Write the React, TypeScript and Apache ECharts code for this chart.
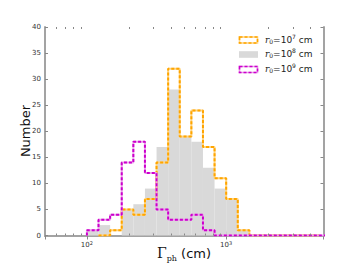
import React, { useEffect, useRef } from "react";
import * as echarts from "echarts";

// Histogram bins: log-uniform, 12 bins per decade, starting at 100 cm
const binStart = 100;
const binsPerDecade = 12;

// Counts per bin (bin 0 starts at 100 cm); null = not drawn
const countsR7: (number | null)[] = [null, 0, 1, 5, 4, 7, 14, 32, 19, 24, 17, 11, 7, 1, 0, 0, 0, 0, 0, 0];
const countsR8: number[] = [1, 2, 0, 5, 6, 9, 17, 28, 19, 18, 13, 9, 7, 1];
const countsR9: number[] = [1, 3, 4, 14, 18, 12, 5, 3, 3, 4, 1, 0, 0, 0, 0, 0, 0, 0, 0, 0, 0];

const xMin = 50;
const xMax = 5000;
const yMin = 0;
const yMax = 40;
const yInterval = 5;
const minorTickValues = [60, 70, 80, 90, 200, 300, 400, 500, 600, 700, 800, 900, 2000, 3000, 4000];

const edge = (k: number) => binStart * Math.pow(10, k / binsPerDecade);

function stepPoints(counts: (number | null)[]) {
  const pts: number[][] = [];
  let first = -1;
  let last = -1;
  counts.forEach((v, k) => {
    if (v === null) return;
    if (first < 0) {
      first = k;
      pts.push([edge(k), 0]);
    }
    pts.push([edge(k), v]);
    pts.push([edge(k + 1), v]);
    last = k;
  });
  if (last >= 0) pts.push([edge(last + 1), 0]);
  return pts;
}

const barData = countsR8.map((v, k) => [edge(k), edge(k + 1), v]);

export default function App() {
  const ref = useRef<HTMLDivElement>(null);
  useEffect(() => {
    document.body.style.margin = "0";
    if (!ref.current) return;
    const chart = echarts.init(ref.current, null, { renderer: "svg" });
    const axisColor = "#a3a3a3";
    const labelFont = "DejaVu Sans";
    const supLabel = (v: number) => {
      const e = Math.log10(v);
      const r = Math.round(e);
      if (Math.abs(e - r) < 1e-6 && (r === 2 || r === 3)) return "10{s|" + r + "}";
      return "";
    };
    const orange = "#FFA500";
    const orangeLight = "#FFD480";
    const magenta = "#CC00CC";
    const magentaLight = "#EBA0EB";
    const grey = "#d9d9d9";

    const legendRows = [
      { y: 40, exp: "7", kind: "orange" },
      { y: 54.5, exp: "8", kind: "grey" },
      { y: 69.5, exp: "9", kind: "magenta" },
    ];
    const legendGraphics: any[] = [];
    legendRows.forEach((r) => {
      if (r.kind === "grey") {
        legendGraphics.push({
          type: "rect",
          shape: { x: 239, y: r.y - 3.3, width: 19, height: 6.6 },
          style: { fill: grey },
        });
      } else {
        const c = r.kind === "orange" ? orange : magenta;
        const cl = r.kind === "orange" ? orangeLight : magentaLight;
        legendGraphics.push({
          type: "rect",
          shape: { x: 239.5, y: r.y - 3, width: 18, height: 6 },
          style: { fill: "none", stroke: cl, lineWidth: 1.6 },
        });
        legendGraphics.push({
          type: "rect",
          shape: { x: 239.5, y: r.y - 3, width: 18, height: 6 },
          style: { fill: "none", stroke: c, lineWidth: 1.6, lineDash: [3, 2] },
        });
      }
      legendGraphics.push({
        type: "text",
        left: 265,
        top: r.y - 7,
        style: {
          text: "{r|r}{sub|0}{t|=10}{sup|" + r.exp + "}{t| cm}",
          rich: {
            r: { fontFamily: "DejaVu Serif", fontStyle: "italic", fontSize: 9, fill: "#222", lineHeight: 14, verticalAlign: "bottom" },
            sub: { fontFamily: "DejaVu Serif", fontSize: 6, fill: "#222", lineHeight: 14, verticalAlign: "bottom", padding: [0, 0, 0, 0] },
            t: { fontFamily: labelFont, fontSize: 9, fill: "#222", lineHeight: 14, verticalAlign: "bottom" },
            sup: { fontFamily: labelFont, fontSize: 6, fill: "#222", lineHeight: 14, verticalAlign: "bottom", padding: [0, 0, 5, 0] },
          },
        },
      });
    });

    const lineSeries = (name: string, counts: (number | null)[], c: string, cl: string, z: number) => [
      {
        name: name + "-halo",
        type: "line",
        data: stepPoints(counts),
        showSymbol: false,
        symbol: "none",
        lineStyle: { color: cl, width: 2 },
        z,
        silent: true,
      },
      {
        name,
        type: "line",
        data: stepPoints(counts),
        showSymbol: false,
        symbol: "none",
        lineStyle: { color: c, width: 2, type: [3, 2] },
        z: z + 1,
        silent: true,
      },
    ];

    chart.setOption({
      animation: false,
      grid: { left: 45, right: 36.5, top: 27, bottom: 34.5, containLabel: false },
      xAxis: [
        {
          type: "log",
          logBase: 10,
          min: xMin,
          max: xMax,
          position: "bottom",
          axisLine: { show: true, lineStyle: { color: axisColor, width: 2 } },
          axisTick: { show: true, inside: true, length: 4, lineStyle: { color: "#888", width: 1 } },
          splitLine: { show: false },
          axisLabel: {
            showMinLabel: false,
            showMaxLabel: false,
            formatter: supLabel,
            fontFamily: labelFont,
            fontSize: 7,
            color: "#333",
            margin: 5,
            rich: { s: { fontSize: 5, fontFamily: labelFont, color: "#333", verticalAlign: "top", padding: [0, 0, 3, 0] } },
          },
        },
        {
          type: "log",
          logBase: 10,
          min: xMin,
          max: xMax,
          position: "top",
          axisLine: { show: true, lineStyle: { color: axisColor, width: 2 } },
          axisTick: { show: true, inside: true, length: 4, lineStyle: { color: "#888", width: 1 } },
          splitLine: { show: false },
          axisLabel: { show: false },
        },
      ],
      yAxis: [
        {
          type: "value",
          min: yMin,
          max: yMax,
          interval: yInterval,
          position: "left",
          axisLine: { show: true, lineStyle: { color: axisColor, width: 2 } },
          axisTick: { show: true, inside: true, length: 3, lineStyle: { color: "#888", width: 1 } },
          splitLine: { show: false },
          axisLabel: { fontFamily: labelFont, fontSize: 7, color: "#333", margin: 4 },
        },
        {
          type: "value",
          min: yMin,
          max: yMax,
          interval: yInterval,
          position: "right",
          axisLine: { show: true, lineStyle: { color: axisColor, width: 2 } },
          axisTick: { show: true, inside: true, length: 3, lineStyle: { color: "#888", width: 1 } },
          splitLine: { show: false },
          axisLabel: { show: false },
        },
      ],
      series: [
        {
          name: "r8",
          type: "custom",
          xAxisIndex: 0,
          yAxisIndex: 0,
          data: barData,
          encode: { x: [0, 1], y: 2 },
          z: 1,
          silent: true,
          renderItem: (params: any, api: any) => {
            const p0 = api.coord([api.value(0), api.value(2)]);
            const p1 = api.coord([api.value(1), 0]);
            return {
              type: "rect",
              shape: { x: p0[0], y: p0[1], width: p1[0] - p0[0], height: p1[1] - p0[1] },
              style: { fill: grey },
            };
          },
        },
        ...lineSeries("r7", countsR7, orange, orangeLight, 3),
        ...lineSeries("r9", countsR9, magenta, magentaLight, 5),
        {
          name: "minor",
          type: "custom",
          xAxisIndex: 0,
          yAxisIndex: 0,
          data: minorTickValues.map((v) => [v, 0]),
          encode: { x: 0, y: 1 },
          z: 10,
          silent: true,
          clip: false,
          renderItem: (params: any, api: any) => {
            const cs = params.coordSys;
            const p = api.coord([api.value(0), 0]);
            const x = Math.round(p[0]) + 0.5;
            return {
              type: "group",
              children: [
                { type: "line", shape: { x1: x, y1: cs.y + cs.height, x2: x, y2: cs.y + cs.height - 2 }, style: { stroke: "#888", lineWidth: 1 } },
                { type: "line", shape: { x1: x, y1: cs.y, x2: x, y2: cs.y + 2 }, style: { stroke: "#888", lineWidth: 1 } },
              ],
            };
          },
        },
      ],
      graphic: [
        ...legendGraphics,
        {
          type: "text",
          x: 25,
          y: 131,
          rotation: Math.PI / 2,
          style: {
            text: "Number",
            fontFamily: labelFont,
            fontSize: 13,
            fill: "#111",
            textAlign: "center",
            textVerticalAlign: "middle",
          },
        },
        {
          type: "text",
          left: 157,
          top: 246,
          style: {
            text: "{g|Γ}{s|ph}{c| (cm)}",
            rich: {
              g: { fontFamily: "DejaVu Serif", fontSize: 14, fill: "#111", lineHeight: 18, verticalAlign: "bottom" },
              s: { fontFamily: "DejaVu Serif", fontSize: 8, fill: "#111", lineHeight: 18, verticalAlign: "bottom", padding: [0, 0, -2, 0] },
              c: { fontFamily: labelFont, fontSize: 13, fill: "#111", lineHeight: 18, verticalAlign: "bottom" },
            },
          },
        },
      ],
    });
    return () => chart.dispose();
  }, []);
  return <div ref={ref} style={{ width: 360, height: 270 }} />;
}
